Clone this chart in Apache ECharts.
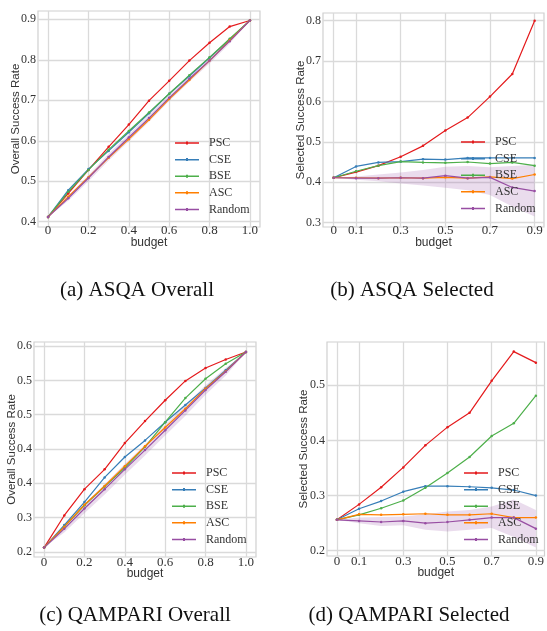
<!DOCTYPE html>
<html>
<head>
<meta charset="utf-8">
<script src="https://cdn.jsdelivr.net/npm/echarts@6/dist/echarts.min.js"></script>
<style>
  html, body { margin: 0; padding: 0; background: #fff; }
  #chart { width: 547px; height: 631px; }
</style>
</head>
<body>
<div id="chart"></div>
<script>
// budgets on the x axes
const budgetOverall = [0, 0.1, 0.2, 0.3, 0.4, 0.5, 0.6, 0.7, 0.8, 0.9, 1.0];
const budgetSelected = [0, 0.1, 0.2, 0.3, 0.4, 0.5, 0.6, 0.7, 0.8, 0.9];

const methods = ['PSC', 'CSE', 'BSE', 'ASC', 'Random'];

// (a) ASQA Overall
const asqaOverallPSC = [0.412, 0.470, 0.528, 0.585, 0.640, 0.699, 0.748, 0.798, 0.842, 0.882, 0.897];
const asqaOverallCSE = [0.412, 0.478, 0.530, 0.575, 0.621, 0.668, 0.716, 0.760, 0.805, 0.850, 0.897];
const asqaOverallBSE = [0.412, 0.474, 0.528, 0.578, 0.624, 0.670, 0.716, 0.762, 0.806, 0.852, 0.897];
const asqaOverallASC = [0.412, 0.462, 0.510, 0.558, 0.604, 0.652, 0.703, 0.750, 0.798, 0.848, 0.897];
const asqaOverallRandom = [0.412, 0.458, 0.508, 0.560, 0.608, 0.656, 0.706, 0.753, 0.798, 0.846, 0.897];
const asqaOverallRandomLow = [0.412, 0.452, 0.500, 0.551, 0.599, 0.647, 0.698, 0.746, 0.791, 0.840, 0.897];
const asqaOverallRandomHigh = [0.412, 0.464, 0.515, 0.568, 0.616, 0.664, 0.713, 0.760, 0.805, 0.852, 0.897];

// (b) ASQA Selected
const asqaSelectedPSC = [0.411, 0.425, 0.441, 0.463, 0.490, 0.528, 0.560, 0.612, 0.668, 0.800];
const asqaSelectedCSE = [0.411, 0.439, 0.449, 0.451, 0.457, 0.456, 0.460, 0.460, 0.460, 0.460];
const asqaSelectedBSE = [0.411, 0.427, 0.441, 0.451, 0.449, 0.448, 0.450, 0.446, 0.449, 0.441];
const asqaSelectedASC = [0.411, 0.411, 0.410, 0.411, 0.410, 0.412, 0.410, 0.413, 0.409, 0.419];
const asqaSelectedRandom = [0.411, 0.410, 0.410, 0.411, 0.410, 0.416, 0.410, 0.412, 0.387, 0.378];
const asqaSelectedRandomLow = [0.411, 0.406, 0.402, 0.397, 0.392, 0.386, 0.380, 0.368, 0.340, 0.315];
const asqaSelectedRandomHigh = [0.411, 0.414, 0.419, 0.424, 0.430, 0.438, 0.440, 0.437, 0.440, 0.443];

// (c) QAMPARI Overall
const qampariOverallPSC = [0.210, 0.270, 0.319, 0.356, 0.405, 0.446, 0.485, 0.521, 0.545, 0.561, 0.575];
const qampariOverallCSE = [0.210, 0.252, 0.295, 0.341, 0.379, 0.410, 0.444, 0.476, 0.508, 0.541, 0.575];
const qampariOverallBSE = [0.210, 0.249, 0.289, 0.324, 0.359, 0.398, 0.444, 0.489, 0.525, 0.553, 0.575];
const qampariOverallASC = [0.210, 0.249, 0.290, 0.325, 0.362, 0.399, 0.434, 0.469, 0.507, 0.539, 0.575];
const qampariOverallRandom = [0.210, 0.245, 0.283, 0.319, 0.356, 0.392, 0.429, 0.466, 0.504, 0.538, 0.575];
const qampariOverallRandomLow = [0.210, 0.238, 0.274, 0.309, 0.346, 0.382, 0.419, 0.456, 0.495, 0.531, 0.575];
const qampariOverallRandomHigh = [0.210, 0.252, 0.291, 0.328, 0.366, 0.402, 0.439, 0.476, 0.513, 0.545, 0.575];

// (d) QAMPARI Selected
const qampariSelectedPSC = [0.256, 0.284, 0.315, 0.351, 0.391, 0.424, 0.450, 0.508, 0.561, 0.541];
const qampariSelectedCSE = [0.256, 0.276, 0.290, 0.307, 0.317, 0.317, 0.316, 0.314, 0.310, 0.300];
const qampariSelectedBSE = [0.256, 0.265, 0.277, 0.291, 0.314, 0.341, 0.370, 0.408, 0.431, 0.481];
const qampariSelectedASC = [0.256, 0.266, 0.265, 0.266, 0.267, 0.265, 0.265, 0.267, 0.260, 0.260];
const qampariSelectedRandom = [0.256, 0.254, 0.252, 0.254, 0.250, 0.252, 0.256, 0.260, 0.260, 0.240];
const qampariSelectedRandomLow = [0.256, 0.250, 0.245, 0.246, 0.238, 0.235, 0.238, 0.241, 0.225, 0.206];
const qampariSelectedRandomHigh = [0.256, 0.260, 0.261, 0.262, 0.266, 0.271, 0.274, 0.280, 0.293, 0.274];

// tick values and their printed labels
const overallXTicks = [0, 0.2, 0.4, 0.6, 0.8, 1.0];
const overallXLabels = ['0', '0.2', '0.4', '0.6', '0.8', '1.0'];
const selectedXTicks = [0, 0.1, 0.3, 0.5, 0.7, 0.9];
const selectedXLabels = ['0', '0.1', '0.3', '0.5', '0.7', '0.9'];
const asqaOverallYTicks = [0.4, 0.5, 0.6, 0.7, 0.8, 0.9];
const asqaOverallYLabels = ['0.4', '0.5', '0.6', '0.7', '0.8', '0.9'];
const asqaSelectedYTicks = [0.3, 0.4, 0.5, 0.6, 0.7, 0.8];
const asqaSelectedYLabels = ['0.3', '0.4', '0.5', '0.6', '0.7', '0.8'];
const qampariOverallYTicks = [0.202, 0.266, 0.330, 0.394, 0.458, 0.522, 0.586];
const qampariOverallYLabels = ['0.2', '0.3', '0.4', '0.4', '0.5', '0.5', '0.6'];
const qampariSelectedYTicks = [0.2, 0.3, 0.4, 0.5];
const qampariSelectedYLabels = ['0.2', '0.3', '0.4', '0.5'];

const colors = ['#e41a1c', '#377eb8', '#4daf4a', '#ff7f00', '#984ea3'];
const gridColor = '#dadada';
const serif = '"Liberation Serif", "DejaVu Serif", serif';
const sans = '"Liberation Sans", Arial, sans-serif';

function labelFor(ticks, labels) {
  return function (v) {
    for (let i = 0; i < ticks.length; i++) {
      if (Math.abs(ticks[i] - v) < 1e-6) return labels[i];
    }
    return '';
  };
}

function xAxis(idx, min, max, ticks, labels, margin, nameGap) {
  return {
    type: 'value', gridIndex: idx, min: min, max: max,
    name: 'budget', nameLocation: 'middle', nameGap: nameGap, nameMoveOverlap: false,
    nameTextStyle: { fontFamily: sans, fontSize: 12, color: '#333' },
    axisLine: { show: false },
    axisTick: { show: false, customValues: ticks },
    axisLabel: {
      customValues: ticks, formatter: labelFor(ticks, labels),
      fontFamily: serif, fontSize: 13, color: '#333',
      verticalAlign: 'middle', margin: margin
    },
    splitLine: { show: true, lineStyle: { color: gridColor, width: 1.3 } }
  };
}

function yAxis(idx, min, max, ticks, labels, name, nameGap) {
  return {
    type: 'value', gridIndex: idx, min: min, max: max,
    name: name, nameLocation: 'middle', nameGap: nameGap, nameMoveOverlap: false,
    nameTextStyle: { fontFamily: sans, fontSize: 11.5, color: '#333' },
    axisLine: { show: false },
    axisTick: { show: false, customValues: ticks },
    axisLabel: {
      customValues: ticks, formatter: labelFor(ticks, labels),
      fontFamily: serif, fontSize: 12, color: '#333', margin: 2
    },
    splitLine: { show: true, lineStyle: { color: gridColor, width: 1.3 } }
  };
}

function lineSeries(name, color, xs, ys, idx) {
  return {
    type: 'line', name: name, xAxisIndex: idx, yAxisIndex: idx,
    data: xs.map((x, i) => [x, ys[i]]),
    symbol: 'circle', symbolSize: 2.5, showSymbol: true,
    itemStyle: { color: color },
    lineStyle: { color: color, width: 1.2 },
    emphasis: { disabled: true }, animation: false, z: 3
  };
}

function bandSeries(xs, lo, hi, idx) {
  return {
    type: 'custom', name: 'Random band', xAxisIndex: idx, yAxisIndex: idx,
    data: [[xs[0], lo[0]]], silent: true, animation: false, z: 1,
    renderItem: function (params, api) {
      const pts = [];
      xs.forEach((x, i) => pts.push(api.coord([x, hi[i]])));
      for (let i = xs.length - 1; i >= 0; i--) pts.push(api.coord([xs[i], lo[i]]));
      return { type: 'polygon', shape: { points: pts }, style: { fill: 'rgba(152,78,163,0.2)' } };
    }
  };
}

// thin line with a small tick marker in the middle
const legendIcon = 'path://M0,0.8h24v1.5h-24z M11,0h2v3h-2z';

function legend(left, top) {
  return {
    data: methods, orient: 'vertical', left: left, top: top,
    icon: legendIcon, itemWidth: 24, itemHeight: 3, itemGap: 4.6, padding: 0,
    selectedMode: false,
    textStyle: { fontFamily: serif, fontSize: 12, color: '#333', lineHeight: 12, padding: [0, 0, 0, 5] }
  };
}

function panelSeries(idx, xs, sets, lo, hi) {
  const out = [bandSeries(xs, lo, hi, idx)];
  methods.forEach((m, i) => out.push(lineSeries(m, colors[i], xs, sets[i], idx)));
  return out;
}

const chart = echarts.init(document.getElementById('chart'), null, { renderer: 'canvas' });

chart.setOption({
  backgroundColor: '#fff',
  animation: false,
  grid: [
    { left: 38, top: 11, width: 222, height: 216 },
    { left: 323, top: 13, width: 221, height: 214 },
    { left: 34, top: 342, width: 222, height: 215 },
    { left: 327, top: 342, width: 220, height: 214 }
  ].map(g => Object.assign(g, { show: true, borderColor: '#d0d0d0', borderWidth: 1.2, containLabel: false })),
  xAxis: [
    xAxis(0, -0.05, 1.05, overallXTicks, overallXLabels, 4, 10),
    xAxis(1, -0.048, 0.942, selectedXTicks, selectedXLabels, 4, 10),
    xAxis(2, -0.05, 1.05, overallXTicks, overallXLabels, 6, 11),
    xAxis(3, -0.045, 0.939, selectedXTicks, selectedXLabels, 6, 11)
  ],
  yAxis: [
    yAxis(0, 0.387, 0.9205, asqaOverallYTicks, asqaOverallYLabels, 'Overall Success Rate', 16.5),
    yAxis(1, 0.289, 0.819, asqaSelectedYTicks, asqaSelectedYLabels, 'Selected Success Rate', 16),
    yAxis(2, 0.1925, 0.5936, qampariOverallYTicks, qampariOverallYLabels, 'Overall Success Rate', 16),
    yAxis(3, 0.1904, 0.5784, qampariSelectedYTicks, qampariSelectedYLabels, 'Selected Success Rate', 17)
  ],
  legend: [
    legend(175, 137),
    legend(461, 136),
    legend(172, 467),
    legend(464, 467)
  ],
  series: [].concat(
    panelSeries(0, budgetOverall,
      [asqaOverallPSC, asqaOverallCSE, asqaOverallBSE, asqaOverallASC, asqaOverallRandom],
      asqaOverallRandomLow, asqaOverallRandomHigh),
    panelSeries(1, budgetSelected,
      [asqaSelectedPSC, asqaSelectedCSE, asqaSelectedBSE, asqaSelectedASC, asqaSelectedRandom],
      asqaSelectedRandomLow, asqaSelectedRandomHigh),
    panelSeries(2, budgetOverall,
      [qampariOverallPSC, qampariOverallCSE, qampariOverallBSE, qampariOverallASC, qampariOverallRandom],
      qampariOverallRandomLow, qampariOverallRandomHigh),
    panelSeries(3, budgetSelected,
      [qampariSelectedPSC, qampariSelectedCSE, qampariSelectedBSE, qampariSelectedASC, qampariSelectedRandom],
      qampariSelectedRandomLow, qampariSelectedRandomHigh)
  ),
  graphic: [
    { type: 'text', x: 137, y: 290, style: { text: '(a) ASQA Overall', font: '21px ' + serif, fill: '#111', align: 'center', verticalAlign: 'middle' } },
    { type: 'text', x: 412, y: 290, style: { text: '(b) ASQA Selected', font: '21px ' + serif, fill: '#111', align: 'center', verticalAlign: 'middle' } },
    { type: 'text', x: 135, y: 615, style: { text: '(c) QAMPARI Overall', font: '21px ' + serif, fill: '#111', align: 'center', verticalAlign: 'middle' } },
    { type: 'text', x: 409, y: 615, style: { text: '(d) QAMPARI Selected', font: '21px ' + serif, fill: '#111', align: 'center', verticalAlign: 'middle' } }
  ]
});
</script>
</body>
</html>
